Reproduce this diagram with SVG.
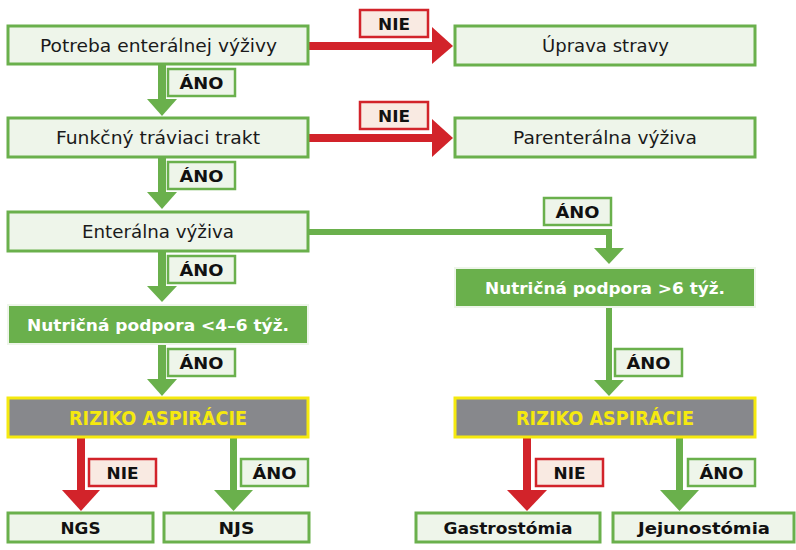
<svg xmlns="http://www.w3.org/2000/svg" width="796" height="550" viewBox="0 0 796 550">
<style>
.box{fill:#eef5ea;stroke:#6ab04c;stroke-width:3}
.solid{fill:#6ab04c;stroke:#eef5ea;stroke-width:2}
.risk{fill:#87888c;stroke:#f5e90f;stroke-width:3}
.yes{fill:#eef5ea;stroke:#6ab04c;stroke-width:2.5}
.no{fill:#f9eae2;stroke:#d2232a;stroke-width:2.5}
text{font-family:"DejaVu Sans","Noto Sans","Liberation Sans",sans-serif;text-anchor:middle}
.t{font-size:17.5px;fill:#1a1a1a}
.b{font-size:16px;font-weight:bold;fill:#111}
.w{font-size:16.5px;font-weight:bold;fill:#fff}
.y{font-size:19px;font-weight:bold;fill:#f5e90f}
.g{fill:#6ab04c}
.r{fill:#d2232a}
</style>
<rect width="796" height="550" fill="#ffffff"/>
<g id="connectors">
  <rect class="r" x="309" y="42" width="124" height="8"/>
  <polygon class="r" points="432,27 432,64 453,46"/>
  <rect class="r" x="309" y="134" width="124" height="8"/>
  <polygon class="r" points="432,119 432,157 453,138"/>
  <rect class="g" x="158" y="64" width="8" height="36"/>
  <polygon class="g" points="147,99 177,99 162,116"/>
  <rect class="g" x="158" y="157" width="8" height="36"/>
  <polygon class="g" points="147,192 177,192 162,209"/>
  <rect class="g" x="158" y="251" width="8" height="36"/>
  <polygon class="g" points="147,286 177,286 162,302"/>
  <rect class="g" x="158" y="344" width="8" height="36"/>
  <polygon class="g" points="147,379 177,379 162,396"/>
  <rect class="g" x="309" y="229" width="303" height="6"/>
  <rect class="g" x="606" y="229" width="6" height="20"/>
  <polygon class="g" points="594,248 624,248 609,264"/>
  <rect class="g" x="606" y="307" width="6" height="74"/>
  <polygon class="g" points="594,380 624,380 609,396"/>
  <rect class="r" x="77" y="438" width="8" height="53"/>
  <polygon class="r" points="62,490 100,490 81,511"/>
  <rect class="g" x="230" y="438" width="7" height="53"/>
  <polygon class="g" points="214,490 253,490 233.5,511"/>
  <rect class="r" x="523" y="438" width="8" height="53"/>
  <polygon class="r" points="507,490 547,490 527,511"/>
  <rect class="g" x="676" y="438" width="7" height="53"/>
  <polygon class="g" points="660,490 699,490 679.5,511"/>
</g>
<g id="lbl-nie1"><rect class="no" x="360" y="10" width="68" height="27"/><text class="b" x="394" y="29.5" textLength="32" lengthAdjust="spacingAndGlyphs">NIE</text></g>
<g id="lbl-nie2"><rect class="no" x="360" y="102" width="68" height="27"/><text class="b" x="394" y="121.5" textLength="32" lengthAdjust="spacingAndGlyphs">NIE</text></g>
<g id="lbl-ano1"><rect class="yes" x="168" y="69" width="67" height="27"/><text class="b" x="201.5" y="89" textLength="44" lengthAdjust="spacingAndGlyphs">ÁNO</text></g>
<g id="lbl-ano2"><rect class="yes" x="168" y="162" width="67" height="27"/><text class="b" x="201.5" y="182" textLength="44" lengthAdjust="spacingAndGlyphs">ÁNO</text></g>
<g id="lbl-ano3"><rect class="yes" x="168" y="256" width="67" height="27"/><text class="b" x="201.5" y="276" textLength="44" lengthAdjust="spacingAndGlyphs">ÁNO</text></g>
<g id="lbl-ano4"><rect class="yes" x="168" y="349" width="67" height="27"/><text class="b" x="201.5" y="369" textLength="44" lengthAdjust="spacingAndGlyphs">ÁNO</text></g>
<g id="lbl-ano5"><rect class="yes" x="544" y="198" width="67" height="27"/><text class="b" x="577.5" y="218" textLength="44" lengthAdjust="spacingAndGlyphs">ÁNO</text></g>
<g id="lbl-ano6"><rect class="yes" x="615" y="349" width="67" height="27"/><text class="b" x="648.5" y="369" textLength="44" lengthAdjust="spacingAndGlyphs">ÁNO</text></g>
<g id="lbl-nie3"><rect class="no" x="89" y="459" width="67" height="27"/><text class="b" x="122.5" y="479" textLength="32" lengthAdjust="spacingAndGlyphs">NIE</text></g>
<g id="lbl-ano7"><rect class="yes" x="241" y="459" width="67" height="27"/><text class="b" x="274.5" y="479" textLength="44" lengthAdjust="spacingAndGlyphs">ÁNO</text></g>
<g id="lbl-nie4"><rect class="no" x="536" y="459" width="67" height="27"/><text class="b" x="569.5" y="479" textLength="32" lengthAdjust="spacingAndGlyphs">NIE</text></g>
<g id="lbl-ano8"><rect class="yes" x="688" y="459" width="67" height="27"/><text class="b" x="721.5" y="479" textLength="44" lengthAdjust="spacingAndGlyphs">ÁNO</text></g>

<g id="n-potreba"><rect class="box" x="8" y="26" width="300" height="38"/><text class="t" x="158.5" y="51.5" textLength="237" lengthAdjust="spacingAndGlyphs">Potreba enterálnej výživy</text></g>
<g id="n-uprava"><rect class="box" x="455" y="26" width="300" height="39"/><text class="t" x="605.5" y="51.5" textLength="127" lengthAdjust="spacingAndGlyphs">Úprava stravy</text></g>
<g id="n-funkcny"><rect class="box" x="8" y="118" width="300" height="39"/><text class="t" x="158" y="144" textLength="204" lengthAdjust="spacingAndGlyphs">Funkčný tráviaci trakt</text></g>
<g id="n-parenteralna"><rect class="box" x="455" y="118" width="300" height="39"/><text class="t" x="605" y="144" textLength="184" lengthAdjust="spacingAndGlyphs">Parenterálna výživa</text></g>
<g id="n-enteralna"><rect class="box" x="8" y="212" width="300" height="39"/><text class="t" x="158" y="238" textLength="152" lengthAdjust="spacingAndGlyphs">Enterálna výživa</text></g>
<g id="n-kratka"><rect class="solid" x="8" y="305" width="300" height="39"/><text class="w" x="158" y="331" textLength="262" lengthAdjust="spacingAndGlyphs">Nutričná podpora &lt;4–6 týž.</text></g>
<g id="n-dlha"><rect class="solid" x="455" y="268" width="300" height="39"/><text class="w" x="605" y="294" textLength="240" lengthAdjust="spacingAndGlyphs">Nutričná podpora &gt;6 týž.</text></g>
<g id="n-riziko1"><rect class="risk" x="8" y="398" width="300" height="39"/><text class="y" x="158" y="425" textLength="178" lengthAdjust="spacingAndGlyphs">RIZIKO ASPIRÁCIE</text></g>
<g id="n-riziko2"><rect class="risk" x="455" y="398" width="300" height="39"/><text class="y" x="605" y="425" textLength="178" lengthAdjust="spacingAndGlyphs">RIZIKO ASPIRÁCIE</text></g>
<g id="n-ngs"><rect class="box" x="8" y="513" width="145" height="29"/><text class="b" x="80.5" y="533.5" textLength="40" lengthAdjust="spacingAndGlyphs">NGS</text></g>
<g id="n-njs"><rect class="box" x="164" y="513" width="145" height="29"/><text class="b" x="236.5" y="533.5" textLength="36" lengthAdjust="spacingAndGlyphs">NJS</text></g>
<g id="n-gastro"><rect class="box" x="416" y="513" width="184" height="29"/><text class="b" x="508" y="533.5" textLength="129" lengthAdjust="spacingAndGlyphs">Gastrostómia</text></g>
<g id="n-jejuno"><rect class="box" x="613" y="513" width="181" height="29"/><text class="b" x="704" y="533.5" textLength="132" lengthAdjust="spacingAndGlyphs">Jejunostómia</text></g>
</svg>
